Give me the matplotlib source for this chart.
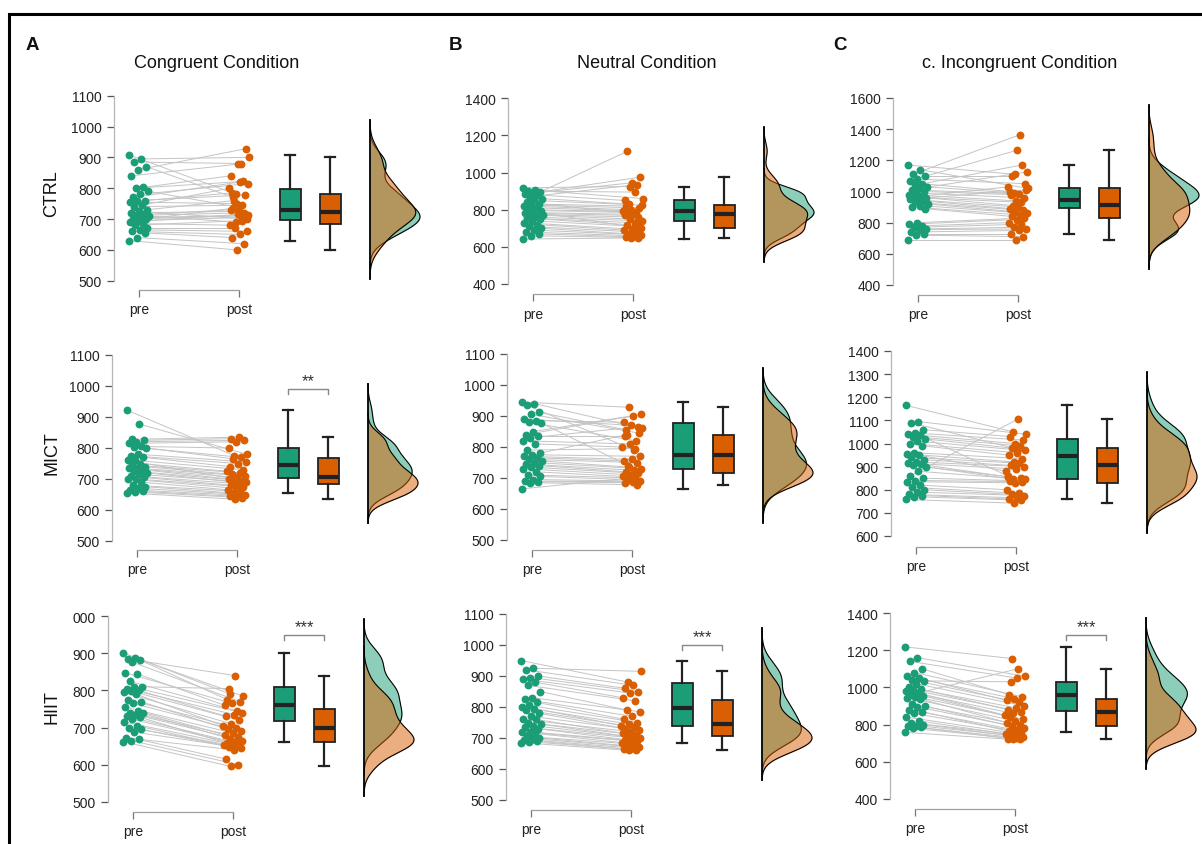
import numpy as np
import matplotlib
matplotlib.use('Agg')
import matplotlib.pyplot as plt
from matplotlib.patches import Rectangle

plt.rcParams['font.family'] = ['Liberation Sans', 'DejaVu Sans']

# ---- data (reaction times, ms); pre[i] is paired with post[i] ----
ctrl_cong_pre = [908, 895, 885, 870, 860, 840, 803, 800, 790, 780, 770, 760, 760, 755, 745, 740, 730, 725,
                 720, 715, 712, 710, 705, 700, 700, 695, 690, 685, 680, 670, 665, 660, 655, 640, 630]
ctrl_cong_post = [780, 900, 880, 770, 928, 878, 840, 822, 740, 815, 820, 785, 778, 750, 800, 745, 760, 700,
                  725, 730, 720, 690, 712, 710, 735, 705, 715, 680, 695, 670, 660, 650, 640, 620, 600]
mict_cong_pre = [922, 877, 828, 825, 820, 815, 805, 803, 800, 780, 775, 770, 760, 760, 750, 745, 740, 735,
                 735, 730, 725, 720, 715, 710, 705, 700, 700, 690, 680, 675, 670, 665, 660, 658, 655]
mict_cong_post = [775, 780, 835, 830, 825, 820, 800, 770, 765, 755, 750, 740, 730, 700, 725, 720, 715, 710,
                  705, 700, 695, 690, 690, 685, 680, 675, 670, 665, 660, 655, 650, 648, 645, 640, 635]
hiit_cong_pre = [902, 888, 885, 882, 876, 848, 845, 825, 810, 808, 805, 800, 798, 795, 790, 775, 770, 765,
                 755, 745, 740, 738, 735, 730, 728, 722, 715, 705, 700, 695, 688, 672, 668, 665, 662]
hiit_cong_post = [790, 785, 840, 775, 770, 765, 760, 745, 805, 740, 735, 730, 720, 710, 705, 700, 695, 690,
                  685, 680, 675, 670, 665, 660, 658, 655, 655, 652, 650, 648, 645, 640, 615, 600, 595]

ctrl_neut_pre = [918, 905, 900, 895, 890, 885, 880, 870, 860, 850, 840, 830, 825, 820, 810, 800, 795, 790,
                 785, 780, 775, 770, 760, 755, 750, 740, 730, 720, 710, 700, 690, 680, 670, 660, 642]
ctrl_neut_post = [925, 860, 895, 1115, 975, 945, 850, 935, 830, 825, 780, 820, 810, 800, 795, 790, 785, 700,
                  775, 770, 760, 750, 740, 730, 720, 710, 695, 690, 680, 670, 665, 660, 655, 650, 648]
mict_neut_pre = [945, 940, 935, 912, 905, 890, 885, 880, 878, 850, 840, 835, 830, 820, 810, 790, 780, 775,
                 770, 765, 760, 755, 750, 745, 740, 735, 730, 720, 710, 705, 695, 690, 688, 685, 665]
mict_neut_post = [928, 860, 790, 855, 845, 870, 880, 820, 740, 905, 900, 835, 865, 810, 800, 795, 840, 770,
                  760, 755, 750, 735, 730, 725, 720, 715, 710, 705, 700, 695, 690, 688, 685, 678, 700]
hiit_neut_pre = [950, 925, 920, 900, 895, 890, 880, 870, 850, 830, 825, 815, 805, 800, 795, 790, 780, 770,
                 760, 760, 750, 745, 740, 735, 730, 720, 720, 715, 705, 700, 698, 695, 690, 688, 685]
hiit_neut_post = [880, 915, 870, 860, 850, 845, 830, 820, 790, 785, 770, 760, 750, 745, 740, 735, 730, 725,
                  720, 715, 710, 705, 700, 700, 695, 690, 690, 685, 680, 675, 670, 668, 665, 662, 660]

ctrl_incong_pre = [1170, 1140, 1110, 1100, 1080, 1070, 1050, 1040, 1030, 1020, 1010, 1000, 990, 980, 970, 965,
                   960, 955, 950, 940, 930, 920, 910, 900, 890, 800, 790, 780, 770, 760, 755, 740, 730, 720, 690]
ctrl_incong_post = [1110, 1020, 1365, 1100, 1050, 1265, 1000, 1170, 990, 1125, 985, 980, 960, 940, 1030, 930,
                    910, 1010, 900, 890, 880, 870, 860, 850, 840, 830, 820, 800, 790, 770, 760, 750, 730, 710, 690]
mict_incong_pre = [1165, 1095, 1090, 1060, 1045, 1040, 1035, 1030, 1020, 1010, 1000, 990, 960, 955, 950, 940,
                   930, 920, 915, 910, 905, 900, 880, 860, 850, 840, 835, 820, 810, 800, 790, 780, 775, 770, 758]
mict_incong_post = [1050, 1040, 975, 1030, 1015, 1000, 860, 990, 980, 970, 960, 950, 935, 920, 880, 915,
                    905, 900, 890, 855, 850, 845, 845, 1105, 840, 835, 830, 800, 785, 780, 775, 765, 760, 755, 742]
hiit_incong_pre = [1218, 1160, 1140, 1100, 1080, 1060, 1050, 1040, 1035, 1020, 1000, 990, 985, 980, 970, 960,
                   955, 950, 945, 940, 910, 900, 895, 880, 870, 860, 840, 820, 810, 800, 795, 790, 785, 780, 758]
hiit_incong_post = [1155, 1060, 1050, 960, 950, 940, 930, 920, 1030, 900, 890, 880, 870, 860, 850, 1100,
                    840, 830, 820, 810, 800, 790, 780, 770, 765, 760, 755, 750, 745, 740, 735, 730, 725, 722, 720]

# box summaries: [whisker low, q1, median, q3, whisker high] for pre, post
ctrl_cong_box = [[630, 697, 728, 797, 907], [600, 683, 722, 782, 902]]
mict_cong_box = [[655, 702, 745, 800, 922], [635, 684, 705, 767, 837]]
hiit_cong_box = [[662, 717, 760, 808, 902], [595, 660, 698, 750, 840]]
ctrl_neut_box = [[642, 737, 792, 852, 922], [650, 700, 778, 828, 975]]
mict_neut_box = [[665, 730, 773, 878, 946], [678, 715, 773, 840, 928]]
hiit_neut_box = [[685, 740, 797, 878, 950], [662, 706, 746, 823, 915]]
ctrl_incong_box = [[725, 893, 948, 1025, 1170], [690, 830, 915, 1020, 1265]]
mict_incong_box = [[758, 848, 945, 1020, 1167], [742, 830, 908, 980, 1107]]
hiit_incong_box = [[758, 875, 958, 1028, 1218], [722, 790, 870, 938, 1100]]

# significance brackets: (stars, height) or None
mict_cong_sig = ('**', 990)
hiit_cong_sig = ('***', 950)
hiit_neut_sig = ('***', 1000)
hiit_incong_sig = ('***', 1280)

conditions = ['Congruent Condition', 'Neutral Condition', 'c. Incongruent Condition']
groups = ['CTRL', 'MICT', 'HIIT']
letters = ['A', 'B', 'C']
time_labels = ['pre', 'post']

ytick_lo = [[500, 400, 400], [500, 500, 600], [500, 500, 400]]
ytick_hi = [[1100, 1400, 1600], [1100, 1100, 1400], [1000, 1100, 1400]]
ytick_step = [[100, 200, 200], [100, 100, 100], [100, 100, 200]]
hiit_cong_top_label = '000'

pre_all = [[ctrl_cong_pre, ctrl_neut_pre, ctrl_incong_pre],
           [mict_cong_pre, mict_neut_pre, mict_incong_pre],
           [hiit_cong_pre, hiit_neut_pre, hiit_incong_pre]]
post_all = [[ctrl_cong_post, ctrl_neut_post, ctrl_incong_post],
            [mict_cong_post, mict_neut_post, mict_incong_post],
            [hiit_cong_post, hiit_neut_post, hiit_incong_post]]
box_all = [[ctrl_cong_box, ctrl_neut_box, ctrl_incong_box],
           [mict_cong_box, mict_neut_box, mict_incong_box],
           [hiit_cong_box, hiit_neut_box, hiit_incong_box]]
sig_all = [[None, None, None],
           [mict_cong_sig, None, None],
           [hiit_cong_sig, hiit_neut_sig, hiit_incong_sig]]

# ---- layout (pixels in the 1202 x 845 figure) ----
W, H = 1202, 845
axis_px = [[114, 508, 893], [112, 507, 891], [108, 506, 890]]
bracket_px = [[291, 295, 296], [551, 551, 548], [813, 811, 810]]
lo_px = [[281.7, 285, 286], [542, 541, 537], [802.7, 801, 800]]
hi_px = [[96.7, 99.3, 99], [356, 355, 352], [617.3, 615, 614]]

PRE_COL = '#1B9E77'
POST_COL = '#D95F02'
EDGE = '#222222'


def kde(values):
    # gaussian density, R style (bw.nrd0, cut = 3)
    v = np.asarray(values, float)
    n = len(v)
    q75, q25 = np.percentile(v, [75, 25])
    bw = 0.9 * min(v.std(ddof=1), (q75 - q25) / 1.34) * n ** -0.2
    grid = np.linspace(v.min() - 3 * bw, v.max() + 3 * bw, 400)
    dens = np.exp(-0.5 * ((grid[:, None] - v[None, :]) / bw) ** 2).sum(1) / (n * bw * np.sqrt(2 * np.pi))
    return grid, dens


fig = plt.figure(figsize=(W / 100, H / 100), dpi=100)

for r in range(3):
    for c in range(3):
        lo, hi = ytick_lo[r][c], ytick_hi[r][c]
        ppu = (lo_px[r][c] - hi_px[r][c]) / (hi - lo)
        top_px = hi_px[r][c] - 12
        ymin = lo - (bracket_px[r][c] - lo_px[r][c]) / ppu
        ymax = hi + (hi_px[r][c] - top_px) / ppu
        ax = fig.add_axes([axis_px[r][c] / W, 1 - bracket_px[r][c] / H,
                           315 / W, (bracket_px[r][c] - top_px) / H])
        ax.set_xlim(0.75, 3.9)
        ax.set_ylim(ymin, ymax)

        pre = np.array(pre_all[r][c], float)
        post = np.array(post_all[r][c], float)
        n = len(pre)
        jit_pre = (((np.arange(n) * 0.618034) % 1) - 0.5) * 0.2
        jit_post = (((np.arange(n) * 0.618034 + 0.37) % 1) - 0.5) * 0.2

        for i in range(n):
            ax.plot([1 + jit_pre[i], 2 + jit_post[i]], [pre[i], post[i]],
                    color='#c4c4c4', lw=0.7, zorder=1)
        ax.scatter(1 + jit_pre, pre, s=32, color=PRE_COL, lw=0, zorder=3, clip_on=False)
        ax.scatter(2 + jit_post, post, s=32, color=POST_COL, lw=0, zorder=3, clip_on=False)

        # boxes
        stats = [dict(whislo=b[0], q1=b[1], med=b[2], q3=b[3], whishi=b[4], fliers=[])
                 for b in box_all[r][c]]
        bp = ax.bxp(stats, positions=[2.51, 2.91], widths=0.21, patch_artist=True,
                    showfliers=False, capwidths=0.1,
                    boxprops=dict(edgecolor=EDGE, linewidth=1.3),
                    whiskerprops=dict(color=EDGE, linewidth=1.6),
                    capprops=dict(color=EDGE, linewidth=1.6),
                    medianprops=dict(color=EDGE, linewidth=3))
        for patch, col in zip(bp['boxes'], [PRE_COL, POST_COL]):
            patch.set_facecolor(col)

        # half densities
        base = 3.31
        g1, d1 = kde(pre)
        g2, d2 = kde(post)
        k = 0.5 / max(d1.max(), d2.max())
        for g, d, col in [(g1, d1, PRE_COL), (g2, d2, POST_COL)]:
            ax.fill_betweenx(g, base, base + d * k, color=col, alpha=0.5, lw=0, clip_on=False, zorder=2)
            ax.plot(base + d * k, g, color='black', lw=0.8, clip_on=False, zorder=2)
        ax.plot([base, base], [min(g1.min(), g2.min()), max(g1.max(), g2.max())],
                color='black', lw=1.3, clip_on=False, zorder=2)

        # significance
        sig = sig_all[r][c]
        if sig is not None:
            drop = 5 / ppu
            ax.plot([2.51, 2.51, 2.91, 2.91], [sig[1] - drop, sig[1], sig[1], sig[1] - drop],
                    color='#888888', lw=1, clip_on=False)
            ax.text(2.71, sig[1] + 1 / ppu, sig[0], ha='center', va='bottom', fontsize=12, color='#333333')

        # axes
        for s in ['top', 'right']:
            ax.spines[s].set_visible(False)
        ax.spines['left'].set_bounds(lo, hi)
        ax.spines['left'].set_color('#b5b5b5')
        ax.spines['left'].set_linewidth(0.9)
        ax.spines['bottom'].set_bounds(1, 2)
        ax.spines['bottom'].set_color('#a0a0a0')
        ax.spines['bottom'].set_linewidth(0.9)
        yt = list(range(lo, hi + 1, ytick_step[r][c]))
        ylab = [str(t) for t in yt]
        if r == 2 and c == 0:
            ylab[-1] = hiit_cong_top_label
        ax.set_yticks(yt)
        ax.set_yticklabels(ylab)
        ax.set_xticks([1, 2])
        ax.set_xticklabels(time_labels)
        ax.tick_params(axis='y', length=5, width=0.9, color='#555555', labelsize=10,
                       labelcolor='#222222', pad=4)
        ax.tick_params(axis='x', length=5, width=0.9, color='#777777', labelsize=10,
                       labelcolor='#222222', pad=4)
        ax.patch.set_visible(False)

# titles, panel letters, group labels
title_x = [217, 647, 1020]
letter_x = [32, 455, 840]
for c in range(3):
    fig.text(title_x[c] / W, 1 - 63 / H, conditions[c], ha='center', va='center', fontsize=13, color='#111111')
    fig.text(letter_x[c] / W, 1 - 45 / H, letters[c], ha='center', va='center', fontsize=13.5,
             fontweight='bold', color='#111111')
row_y = [194, 453, 707]
for r in range(3):
    fig.text(52 / W, 1 - row_y[r] / H, groups[r], rotation=90, ha='center', va='center',
             fontsize=13, color='#111111')

# frame around the figure (cut at right and bottom edges)
fig.add_artist(Rectangle((9 / W, -0.1), 1.2, 1 - 15 / H + 0.1, transform=fig.transFigure,
                         fill=False, lw=2.2, ec='black'))

fig.savefig('out.png', dpi=100)
